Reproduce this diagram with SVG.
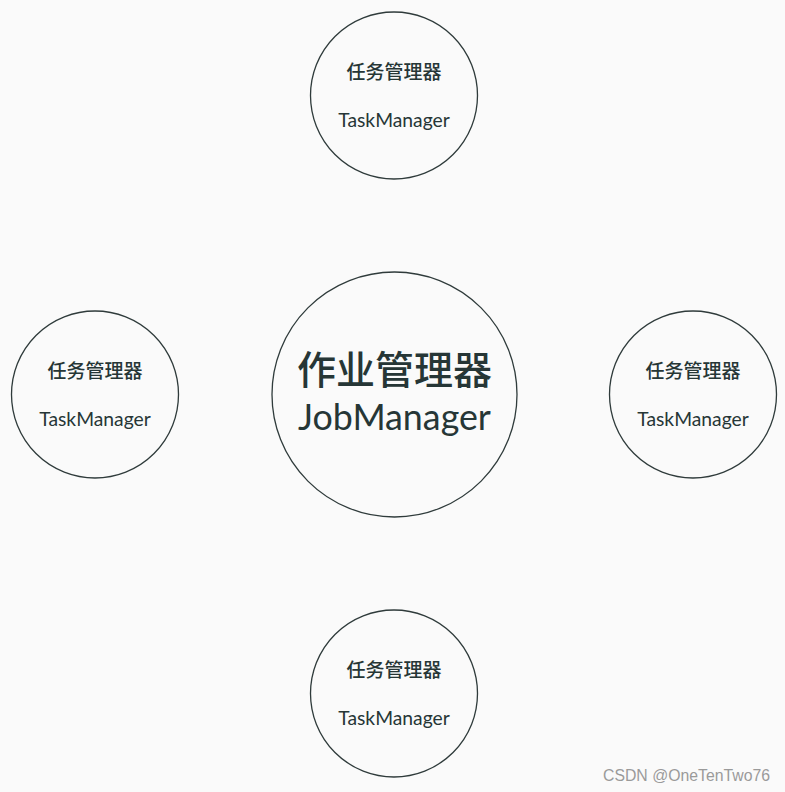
<svg xmlns="http://www.w3.org/2000/svg" width="785" height="792" viewBox="0 0 785 792">
<style>
.node circle{fill:none;stroke:#2f3b3b;stroke-width:1.3}
text{fill:#263636;text-anchor:middle}
.zh{font-family:"Noto Sans CJK SC",sans-serif;font-weight:500}
.en{font-family:Lato,"Liberation Sans",sans-serif}
.s-zh{font-size:19px}
.s-en{font-size:19.3px}
.wm{font-family:"Liberation Sans",Arial,sans-serif;font-size:15.8px;fill:#9a9a9a;text-anchor:start}
</style>
<rect width="785" height="792" fill="#fafafa"/>
<g id="connectors"/>
<g id="jobmanager" class="node">
<circle cx="394.5" cy="394.5" r="122.5"/>
<text class="zh" x="394.5" y="384" font-size="39">作业管理器</text>
<text class="en" x="394.5" y="430" font-size="35.8">JobManager</text>
</g>
<g id="tm-top" class="node">
<circle cx="394" cy="95.5" r="83.5"/>
<text class="zh s-zh" x="394" y="79">任务管理器</text>
<text class="en s-en" x="394" y="127">TaskManager</text>
</g>
<g id="tm-left" class="node">
<circle cx="95" cy="394.5" r="83.5"/>
<text class="zh s-zh" x="95" y="378">任务管理器</text>
<text class="en s-en" x="95" y="426">TaskManager</text>
</g>
<g id="tm-right" class="node">
<circle cx="693" cy="394.5" r="83.5"/>
<text class="zh s-zh" x="693" y="378">任务管理器</text>
<text class="en s-en" x="693" y="426">TaskManager</text>
</g>
<g id="tm-bottom" class="node">
<circle cx="394" cy="693.5" r="83.5"/>
<text class="zh s-zh" x="394" y="677">任务管理器</text>
<text class="en s-en" x="394" y="725">TaskManager</text>
</g>
<text class="wm" x="603" y="781">CSDN @OneTenTwo76</text>
</svg>
